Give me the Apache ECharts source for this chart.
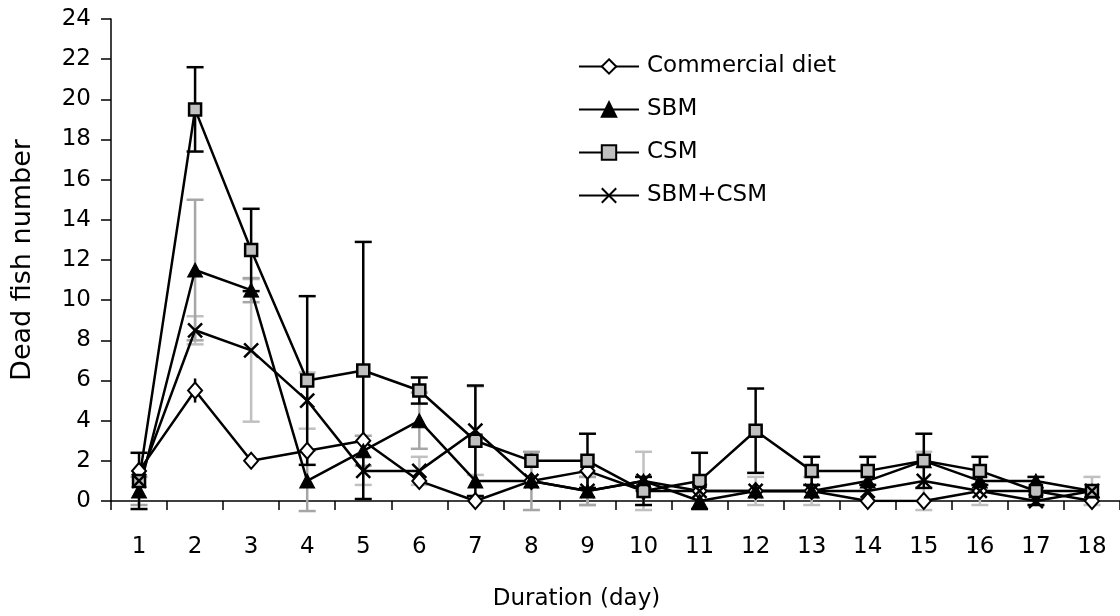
<!DOCTYPE html>
<html>
<head>
<meta charset="utf-8">
<script src="https://cdn.jsdelivr.net/npm/echarts@6/dist/echarts.min.js"></script>
<style>
html,body{margin:0;padding:0;background:#fff;}
#chart{width:1120px;height:616px;}
</style>
</head>
<body>
<div id="chart"></div>
<script>
var days = ['1','2','3','4','5','6','7','8','9','10','11','12','13','14','15','16','17','18'];
var yTicks = [0, 24, 2];

var commercial = [1.5, 5.5, 2, 2.5, 3, 1, 0, 1, 1.5, 0.5, 0.5, 0.5, 0.5, 0, 0, 0.5, 0.5, 0];
var sbm        = [0.5, 11.5, 10.5, 1, 2.5, 4, 1, 1, 0.5, 1, 0, 0.5, 0.5, 1, 2, 1, 1, 0.5];
var csm        = [1, 19.5, 12.5, 6, 6.5, 5.5, 3, 2, 2, 0.5, 1, 3.5, 1.5, 1.5, 2, 1.5, 0.5, 0.5];
var mix        = [1, 8.5, 7.5, 5, 1.5, 1.5, 3.5, 1, 0.5, 1, 0.5, 0.5, 0.5, 0.5, 1, 0.5, 0, 0.5];

var commercialErr = [0, 0.6, 0, 0, 0, 0, 0, 0, 0, 0, 0, 0, 0, 0, 0, 0, 0, 0];
var sbmErr        = [0.7, 3.5, 0.6, 1.5, 0.75, 1.4, 0, 1.45, 0.7, 0, 0, 0, 0, 0, 0, 0, 0, 0];
var csmErr        = [1.4, 2.1, 2.05, 4.2, 6.4, 0.65, 2.75, 0, 1.35, 0.7, 1.4, 2.1, 0.7, 0.7, 1.35, 0.7, 0.7, 0];
var mixErr        = [0, 0.7, 3.55, 1.4, 0.7, 0.7, 2.2, 0, 0.7, 1.45, 0, 0.7, 0.7, 0, 1.45, 0.7, 0, 0.7];

var names = ['Commercial diet', 'SBM', 'CSM', 'SBM+CSM'];

var FONT = 'DejaVu Sans';

function errData(vals, errs) {
  return vals.map(function (v, i) { return [i, v, errs[i]]; });
}

function errSeries(vals, errs, color, capW, lw) {
  return {
    type: 'custom',
    z: 1,
    silent: true,
    data: errData(vals, errs),
    renderItem: function (params, api) {
      var x = api.value(0), v = api.value(1), e = api.value(2);
      if (!e) return null;
      var top = api.coord([x, v + e]);
      var bot = api.coord([x, v - e]);
      var st = { stroke: color, lineWidth: lw };
      var children = [
        { type: 'line', shape: { x1: top[0], y1: top[1], x2: bot[0], y2: bot[1] }, style: st }
      ];
      if (capW > 0) {
        children.push({ type: 'line', shape: { x1: top[0] - capW / 2, y1: top[1], x2: top[0] + capW / 2, y2: top[1] }, style: st });
        children.push({ type: 'line', shape: { x1: bot[0] - capW / 2, y1: bot[1], x2: bot[0] + capW / 2, y2: bot[1] }, style: st });
      }
      return { type: 'group', children: children };
    }
  };
}

function lineSeries(name, vals, symbol, size, itemStyle) {
  return {
    name: name,
    type: 'line',
    z: 3,
    data: vals,
    symbol: symbol,
    symbolSize: size,
    showAllSymbol: true,
    lineStyle: { color: '#000', width: 2.5 },
    itemStyle: itemStyle,
    emphasis: { disabled: true },
    animation: false
  };
}

var chart = echarts.init(document.getElementById('chart'));
chart.setOption({
  backgroundColor: '#fff',
  animation: false,
  textStyle: { fontFamily: FONT },
  grid: { left: 111, top: 19, right: -9, bottom: 115, containLabel: false },
  legend: {
    orient: 'vertical',
    left: 573,
    top: 50,
    padding: 5,
    itemWidth: 60,
    itemHeight: 18,
    itemGap: 20,
    data: names,
    textStyle: { fontFamily: FONT, fontSize: 23, color: '#000', padding: [0, 0, 0, 3] }
  },
  xAxis: {
    type: 'category',
    data: days,
    boundaryGap: true,
    name: 'Duration (day)',
    nameLocation: 'middle',
    nameGap: 87,
    nameTextStyle: { fontFamily: FONT, fontSize: 23, color: '#000', padding: [0, 78, 0, 0] },
    axisLine: { lineStyle: { color: '#000', width: 1.5 } },
    axisTick: { show: true, inside: false, length: 9, alignWithLabel: false, interval: 0, lineStyle: { color: '#000', width: 1.5 } },
    axisLabel: { interval: 0, margin: 35, fontFamily: FONT, fontSize: 23, color: '#000' },
    splitLine: { show: false }
  },
  yAxis: {
    type: 'value',
    min: yTicks[0],
    max: yTicks[1],
    interval: yTicks[2],
    name: 'Dead fish number',
    nameLocation: 'middle',
    nameGap: 75,
    nameRotate: 90,
    nameTextStyle: { fontFamily: FONT, fontSize: 27, color: '#000' },
    axisLine: { show: true, lineStyle: { color: '#000', width: 1.5 } },
    axisTick: { show: true, inside: false, length: 10, lineStyle: { color: '#000', width: 1.5 } },
    axisLabel: { margin: 20, fontFamily: FONT, fontSize: 23, color: '#000' },
    splitLine: { show: false }
  },
  series: [
    errSeries(mix, mixErr, '#c0c0c0', 17, 2.5),
    errSeries(sbm, sbmErr, '#a6a6a6', 17, 2.5),
    errSeries(csm, csmErr, '#000', 17, 2.5),
    errSeries(commercial, commercialErr, '#000', 0, 2.5),
    lineSeries(names[0], commercial, 'diamond', [14, 16], { color: '#fff', borderColor: '#000', borderWidth: 2 }),
    lineSeries(names[1], sbm, 'triangle', [15, 14], { color: '#000', borderColor: '#000', borderWidth: 1 }),
    lineSeries(names[2], csm, 'rect', [12, 12], { color: '#c0c0c0', borderColor: '#000', borderWidth: 2.5 }),
    lineSeries(names[3], mix, 'path://M0,0L10,10M10,0L0,10', [14, 14], { color: 'none', borderColor: '#000', borderWidth: 2.5 })
  ]
});
</script>
</body>
</html>
